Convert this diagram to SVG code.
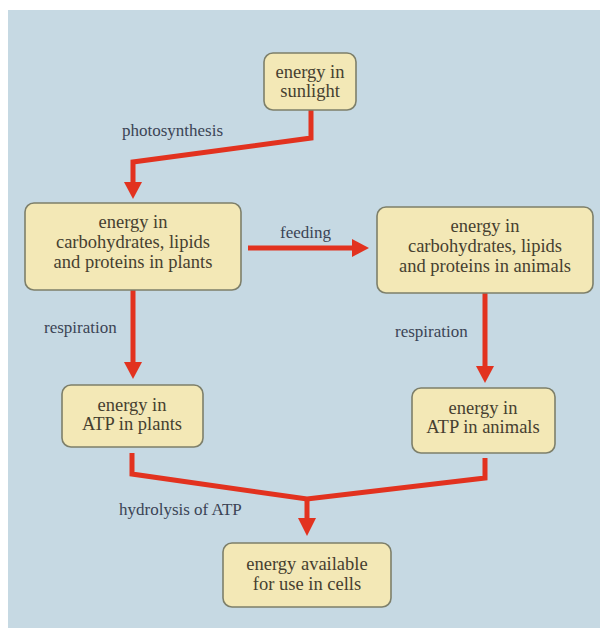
<svg xmlns="http://www.w3.org/2000/svg" width="600" height="637" viewBox="0 0 600 637">
<defs>
<style>
.box{fill:#f3e8b6;stroke:#7d7f6a;stroke-width:1.6}
.t{font-family:'Liberation Serif','DejaVu Serif',serif;font-size:18.5px;fill:#463f30;text-anchor:middle}
.lbl{font-family:'Liberation Serif','DejaVu Serif',serif;font-size:17px;fill:#3b4455}
.c{fill:none;stroke:#e2321f;stroke-width:5;stroke-linejoin:miter}
.h{fill:#e2321f}
</style>
</defs>
<rect x="0" y="0" width="600" height="637" fill="#ffffff"/>
<rect x="8" y="10" width="592" height="618" fill="#c6d9e3"/>
<g id="connectors">
<polyline class="c" points="311,110 311,138 133,162 133,184"/>
<polygon class="h" points="124,182 142,182 133,199"/>
<line class="c" x1="248" y1="248" x2="354" y2="248"/>
<polygon class="h" points="352,239 352,257 369,248"/>
<line class="c" x1="133" y1="290" x2="133" y2="364"/>
<polygon class="h" points="124,362 142,362 133,379"/>
<line class="c" x1="485" y1="292" x2="485" y2="368"/>
<polygon class="h" points="476,366 494,366 485,383"/>
<polyline class="c" points="132,453 132,474 307,499 485,478 485,458"/>
<line class="c" x1="307" y1="499" x2="307" y2="520"/>
<polygon class="h" points="298,518 316,518 307,536"/>
</g>
<g id="labels">
<text class="lbl" x="122" y="136">photosynthesis</text>
<text class="lbl" x="280" y="238">feeding</text>
<text class="lbl" x="44" y="333">respiration</text>
<text class="lbl" x="395" y="337">respiration</text>
<text class="lbl" x="119" y="515">hydrolysis of ATP</text>
</g>
<g id="sunlight">
<rect class="box" x="264" y="53" width="92" height="57" rx="9"/>
<text class="t" x="310" y="78">energy in</text>
<text class="t" x="310" y="97">sunlight</text>
</g>
<g id="plants">
<rect class="box" x="25" y="203" width="216" height="87" rx="9"/>
<text class="t" x="133" y="228">energy in</text>
<text class="t" x="133" y="248">carbohydrates, lipids</text>
<text class="t" x="133" y="268">and proteins in plants</text>
</g>
<g id="animals">
<rect class="box" x="377" y="207" width="216" height="86" rx="9"/>
<text class="t" x="485" y="232">energy in</text>
<text class="t" x="485" y="252">carbohydrates, lipids</text>
<text class="t" x="485" y="272">and proteins in animals</text>
</g>
<g id="atp-plants">
<rect class="box" x="62" y="385" width="141" height="62" rx="9"/>
<text class="t" x="132" y="411">energy in</text>
<text class="t" x="132" y="430">ATP in plants</text>
</g>
<g id="atp-animals">
<rect class="box" x="412" y="388" width="143" height="65" rx="9"/>
<text class="t" x="483" y="414">energy in</text>
<text class="t" x="483" y="433">ATP in animals</text>
</g>
<g id="cells">
<rect class="box" x="223" y="543" width="168" height="64" rx="9"/>
<text class="t" x="307" y="570">energy available</text>
<text class="t" x="307" y="590">for use in cells</text>
</g>
</svg>
